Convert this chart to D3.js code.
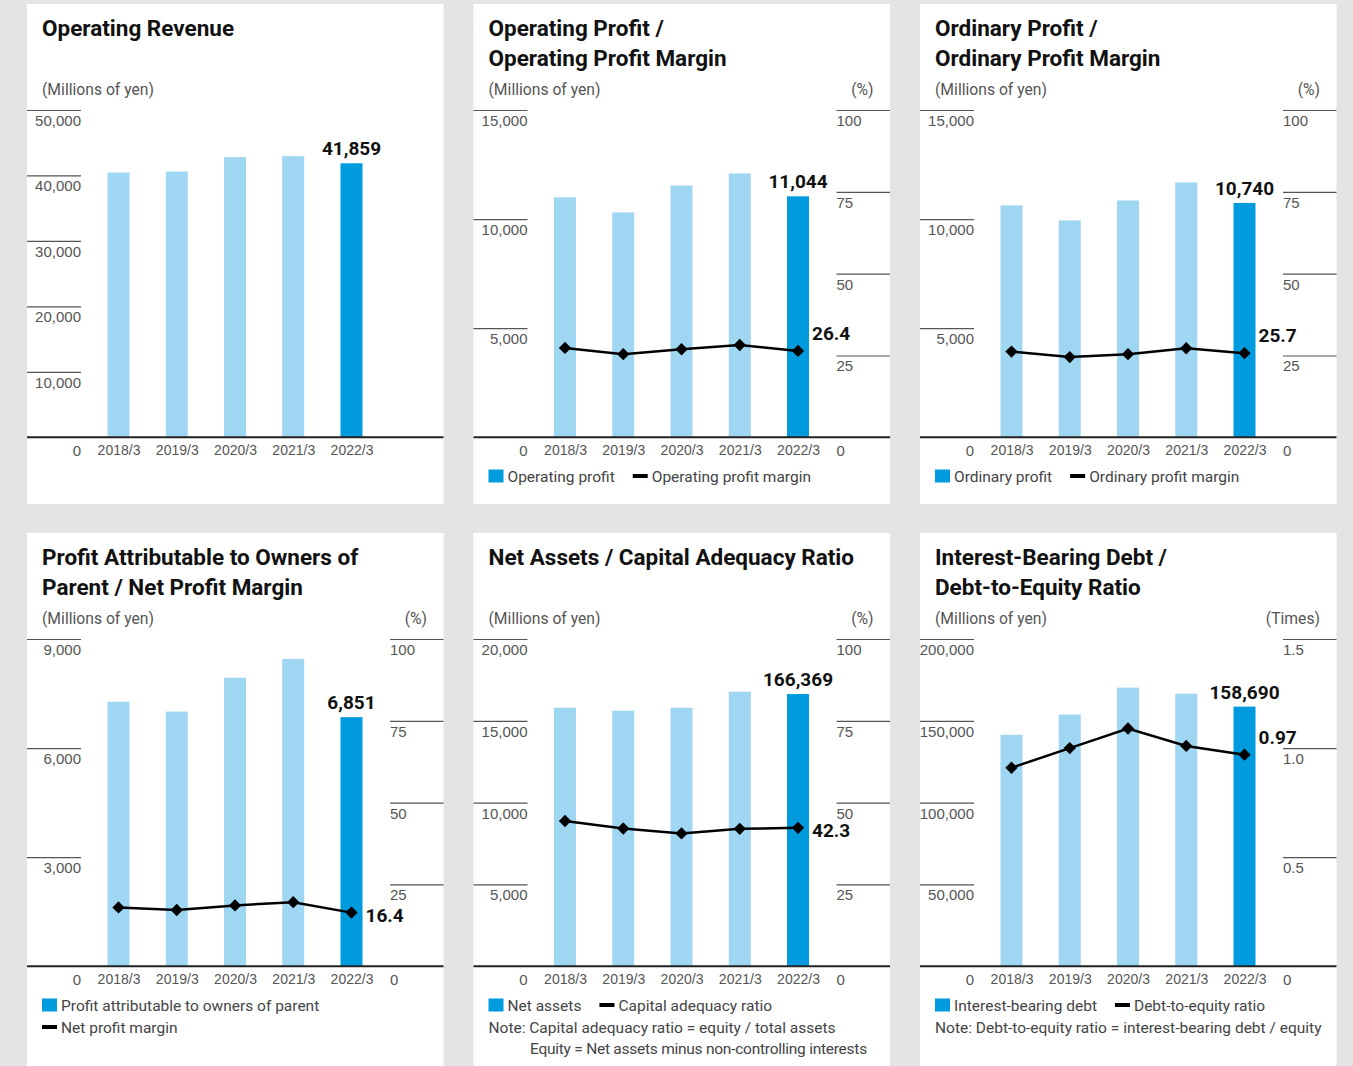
<!DOCTYPE html>
<html>
<head>
<meta charset="utf-8">
<script src="https://cdn.jsdelivr.net/npm/d3@7"></script>
<style>
  html, body { margin: 0; padding: 0; background: #e4e4e4; }
  svg { display: block; font-family: Roboto, "Noto Sans", sans-serif; }
</style>
</head>
<body>
<svg id="chart" width="1353" height="1066"></svg>
<script>
// ---------------- DATA ----------------
const categories = ["2018/3", "2019/3", "2020/3", "2021/3", "2022/3"];

const operatingRevenue = [40450, 40600, 42800, 42950, 41859];

const operatingProfit = [11000, 10306, 11542, 12091, 11044];
const operatingMargin = [27.3, 25.4, 26.9, 28.2, 26.4];

const ordinaryProfit = [10627, 9940, 10855, 11679, 10740];
const ordinaryMargin = [26.2, 24.5, 25.4, 27.2, 25.7];

const netProfit = [7274, 7004, 7933, 8453, 6851];
const netMargin = [18.0, 17.2, 18.6, 19.6, 16.4];

const netAssets = [158000, 156200, 158000, 167800, 166369];
const capitalRatio = [44.4, 42.1, 40.6, 42.0, 42.3];

const interestDebt = [141500, 153800, 170300, 166600, 158690];
const deRatio = [0.91, 1.00, 1.09, 1.01, 0.97];

// tick values and tick labels
const revenueTicks = [0, 10000, 20000, 30000, 40000, 50000];
const revenueTickLabels = ["0", "10,000", "20,000", "30,000", "40,000", "50,000"];
const profitTicks = [0, 5000, 10000, 15000];
const profitTickLabels = ["0", "5,000", "10,000", "15,000"];
const netProfitTicks = [0, 3000, 6000, 9000];
const netProfitTickLabels = ["0", "3,000", "6,000", "9,000"];
const netAssetsTicks = [0, 50000, 100000, 150000, 200000];
const netAssetsTickLabels = ["0", "5,000", "10,000", "15,000", "20,000"];
const debtTicks = [0, 50000, 100000, 150000, 200000];
const debtTickLabels = ["0", "50,000", "100,000", "150,000", "200,000"];
const percentTicks = [0, 25, 50, 75, 100];
const percentTickLabels = ["0", "25", "50", "75", "100"];
const timesTicks = [0, 0.5, 1.0, 1.5];
const timesTickLabels = ["0", "0.5", "1.0", "1.5"];

// ---------------- LAYOUT / STYLE ----------------
const LIGHT = "#9fd6f2", DARK = "#009bdf";
const panelXs = [27, 473.5, 920];
const panelYs = [4, 533];
const PW = 416.5;

const panels = [
  { col: 0, row: 0, h: 500, title: ["Operating Revenue"], unitL: "(Millions of yen)", unitR: null,
    bars: operatingRevenue, ticksL: revenueTicks, labelsL: revenueTickLabels, maxL: 50000,
    line: null, legend: null, notes: [] },
  { col: 1, row: 0, h: 500, title: ["Operating Profit /", "Operating Profit Margin"], unitL: "(Millions of yen)", unitR: "(%)",
    bars: operatingProfit, ticksL: profitTicks, labelsL: profitTickLabels, maxL: 15000,
    line: operatingMargin, ticksR: percentTicks, labelsR: percentTickLabels, maxR: 100, lineLabel: "26.4", lineLabelMode: "above",
    legend: { bar: "Operating profit", line: "Operating profit margin", twoRows: false }, notes: [] },
  { col: 2, row: 0, h: 500, title: ["Ordinary Profit /", "Ordinary Profit Margin"], unitL: "(Millions of yen)", unitR: "(%)",
    bars: ordinaryProfit, ticksL: profitTicks, labelsL: profitTickLabels, maxL: 15000,
    line: ordinaryMargin, ticksR: percentTicks, labelsR: percentTickLabels, maxR: 100, lineLabel: "25.7", lineLabelMode: "above",
    legend: { bar: "Ordinary profit", line: "Ordinary profit margin", twoRows: false }, notes: [] },
  { col: 0, row: 1, h: 540, title: ["Profit Attributable to Owners of", "Parent / Net Profit Margin"], unitL: "(Millions of yen)", unitR: "(%)",
    bars: netProfit, ticksL: netProfitTicks, labelsL: netProfitTickLabels, maxL: 9000,
    line: netMargin, ticksR: percentTicks, labelsR: percentTickLabels, maxR: 100, lineLabel: "16.4", lineLabelMode: "level",
    legend: { bar: "Profit attributable to owners of parent", line: "Net profit margin", twoRows: true }, notes: [] },
  { col: 1, row: 1, h: 540, title: ["Net Assets / Capital Adequacy Ratio"], unitL: "(Millions of yen)", unitR: "(%)",
    bars: netAssets, ticksL: netAssetsTicks, labelsL: netAssetsTickLabels, maxL: 200000,
    line: capitalRatio, ticksR: percentTicks, labelsR: percentTickLabels, maxR: 100, lineLabel: "42.3", lineLabelMode: "level",
    legend: { bar: "Net assets", line: "Capital adequacy ratio", twoRows: false },
    notes: [{ t: "Note: Capital adequacy ratio = equity / total assets", dx: 0, ls: 0 }, { t: "Equity = Net assets minus non-controlling interests", dx: 41.5, ls: -0.25 }] },
  { col: 2, row: 1, h: 540, title: ["Interest-Bearing Debt /", "Debt-to-Equity Ratio"], unitL: "(Millions of yen)", unitR: "(Times)",
    bars: interestDebt, ticksL: debtTicks, labelsL: debtTickLabels, maxL: 200000,
    line: deRatio, ticksR: timesTicks, labelsR: timesTickLabels, maxR: 1.5, lineLabel: "0.97", lineLabelMode: "above",
    legend: { bar: "Interest-bearing debt", line: "Debt-to-equity ratio", twoRows: false },
    notes: [{ t: "Note: Debt-to-equity ratio = interest-bearing debt / equity", dx: 0, ls: 0 }] }
];

const fmt = d3.format(",");
const svg = d3.select("#chart");
svg.append("rect").attr("width", 1353).attr("height", 1066).attr("fill", "#e4e4e4");

const PLOT_TOP = 106, PLOT_BOTTOM = 433.3;
const STUB = 54;

panels.forEach(p => {
  const g = svg.append("g").attr("transform", `translate(${panelXs[p.col]},${panelYs[p.row]})`);
  g.append("rect").attr("width", PW).attr("height", p.h).attr("fill", "#fff");

  // title
  p.title.forEach((t, i) => {
    g.append("text").attr("x", 15).attr("y", 32 + i * 29.5)
      .attr("font-size", 22.5).attr("font-weight", 700).attr("fill", "#111").text(t);
  });
  g.append("text").attr("x", 15).attr("y", 90.5).attr("font-size", 15.7).attr("fill", "#555").text(p.unitL);
  if (p.unitR) g.append("text").attr("x", 400).attr("y", 90.5).attr("text-anchor", "end")
      .attr("font-size", 15.7).attr("fill", "#555").text(p.unitR);

  const x = d3.scalePoint().domain(categories).range([91.5, 324.5]);
  const y = d3.scaleLinear().domain([0, p.maxL]).range([PLOT_BOTTOM, PLOT_TOP]);

  // left axis (stubs)
  const axL = g.append("g")
    .call(d3.axisRight(y).tickValues(p.ticksL).tickSize(STUB)
      .tickFormat((d, i) => p.labelsL[i]));
  axL.select(".domain").remove();
  axL.selectAll(".tick line").attr("stroke", "#555").attr("stroke-width", 1.2)
    .attr("display", d => d === 0 ? "none" : null);
  axL.selectAll(".tick text").attr("x", STUB).attr("text-anchor", "end")
    .attr("dy", d => d === 0 ? 18.5 : 15.5).attr("font-size", 15).attr("font-weight", 300)
    .attr("fill", "#555").attr("font-family", null);

  // right axis
  let y2 = null;
  if (p.line) {
    y2 = d3.scaleLinear().domain([0, p.maxR]).range([PLOT_BOTTOM, PLOT_TOP]);
    const axR = g.append("g").attr("transform", `translate(${PW},0)`)
      .call(d3.axisLeft(y2).tickValues(p.ticksR).tickSize(PW - 363)
        .tickFormat((d, i) => p.labelsR[i]));
    axR.select(".domain").remove();
    axR.selectAll(".tick line").attr("stroke", "#555").attr("stroke-width", 1.2)
      .attr("display", d => d === 0 ? "none" : null);
    axR.selectAll(".tick text").attr("x", -(PW - 363)).attr("text-anchor", "start")
      .attr("dy", d => d === 0 ? 18.5 : 15.5).attr("font-size", 15).attr("font-weight", 300)
      .attr("fill", "#555").attr("font-family", null);
  }

  // bars
  const BW = 22;
  g.append("g").selectAll("rect").data(p.bars).join("rect")
    .attr("x", (d, i) => x(categories[i]) - BW / 2)
    .attr("y", d => y(d))
    .attr("width", BW)
    .attr("height", d => y(0) - y(d))
    .attr("fill", (d, i) => i === categories.length - 1 ? DARK : LIGHT);

  // baseline
  g.append("line").attr("x1", 0).attr("x2", PW).attr("y1", y(0)).attr("y2", y(0))
    .attr("stroke", "#222").attr("stroke-width", 2);

  // x axis labels
  const axX = g.append("g").attr("transform", `translate(0,${y(0)})`)
    .call(d3.axisBottom(x).tickSize(0).tickPadding(8));
  axX.select(".domain").remove();
  axX.selectAll(".tick text").attr("font-size", 14).attr("font-weight", 300)
    .attr("fill", "#555").attr("font-family", null);

  // last bar value label
  const last = categories.length - 1;
  g.append("text").attr("x", x(categories[last])).attr("y", y(p.bars[last]) - 8)
    .attr("text-anchor", "middle").attr("font-size", 19).attr("font-weight", 700)
    .attr("fill", "#111").text(fmt(p.bars[last]));

  // line series
  if (p.line) {
    const line = d3.line().x((d, i) => x(categories[i])).y(d => y2(d));
    g.append("path").datum(p.line).attr("d", line).attr("fill", "none")
      .attr("stroke", "#000").attr("stroke-width", 2.5);
    const sym = d3.symbol().type(d3.symbolSquare).size(76);
    g.append("g").selectAll("path").data(p.line).join("path")
      .attr("d", sym)
      .attr("transform", (d, i) => `translate(${x(categories[i])},${y2(d)}) rotate(45)`)
      .attr("fill", "#000");
    const lx = x(categories[last]) + 14;
    const ly = y2(p.line[last]) + (p.lineLabelMode === "above" ? -11 : 9);
    g.append("text").attr("x", lx).attr("y", ly).attr("font-size", 19).attr("font-weight", 700)
      .attr("fill", "#111").text(p.lineLabel);
  }

  // legend
  if (p.legend) {
    const ly1 = 472;
    g.append("rect").attr("x", 15).attr("y", ly1 - 6.5).attr("width", 15).attr("height", 13).attr("fill", DARK);
    const t1 = g.append("text").attr("x", 34).attr("y", ly1 + 5.5).attr("font-size", 15.5)
      .attr("fill", "#444").text(p.legend.bar);
    let lx, ly2;
    if (p.legend.twoRows) { lx = 15; ly2 = ly1 + 22; }
    else { lx = 34 + t1.node().getComputedTextLength() + 18; ly2 = ly1; }
    g.append("rect").attr("x", lx).attr("y", ly2 - 2).attr("width", 15).attr("height", 4).attr("fill", "#000");
    g.append("text").attr("x", lx + 19).attr("y", ly2 + 5.5).attr("font-size", 15.5)
      .attr("fill", "#444").text(p.legend.line);
  }
  p.notes.forEach((n, i) => {
    g.append("text").attr("x", 15 + n.dx).attr("y", 494 + i * 21 + 5.5).attr("font-size", 15.5)
      .attr("letter-spacing", n.ls).attr("fill", "#444").text(n.t);
  });
});
</script>
</body>
</html>
